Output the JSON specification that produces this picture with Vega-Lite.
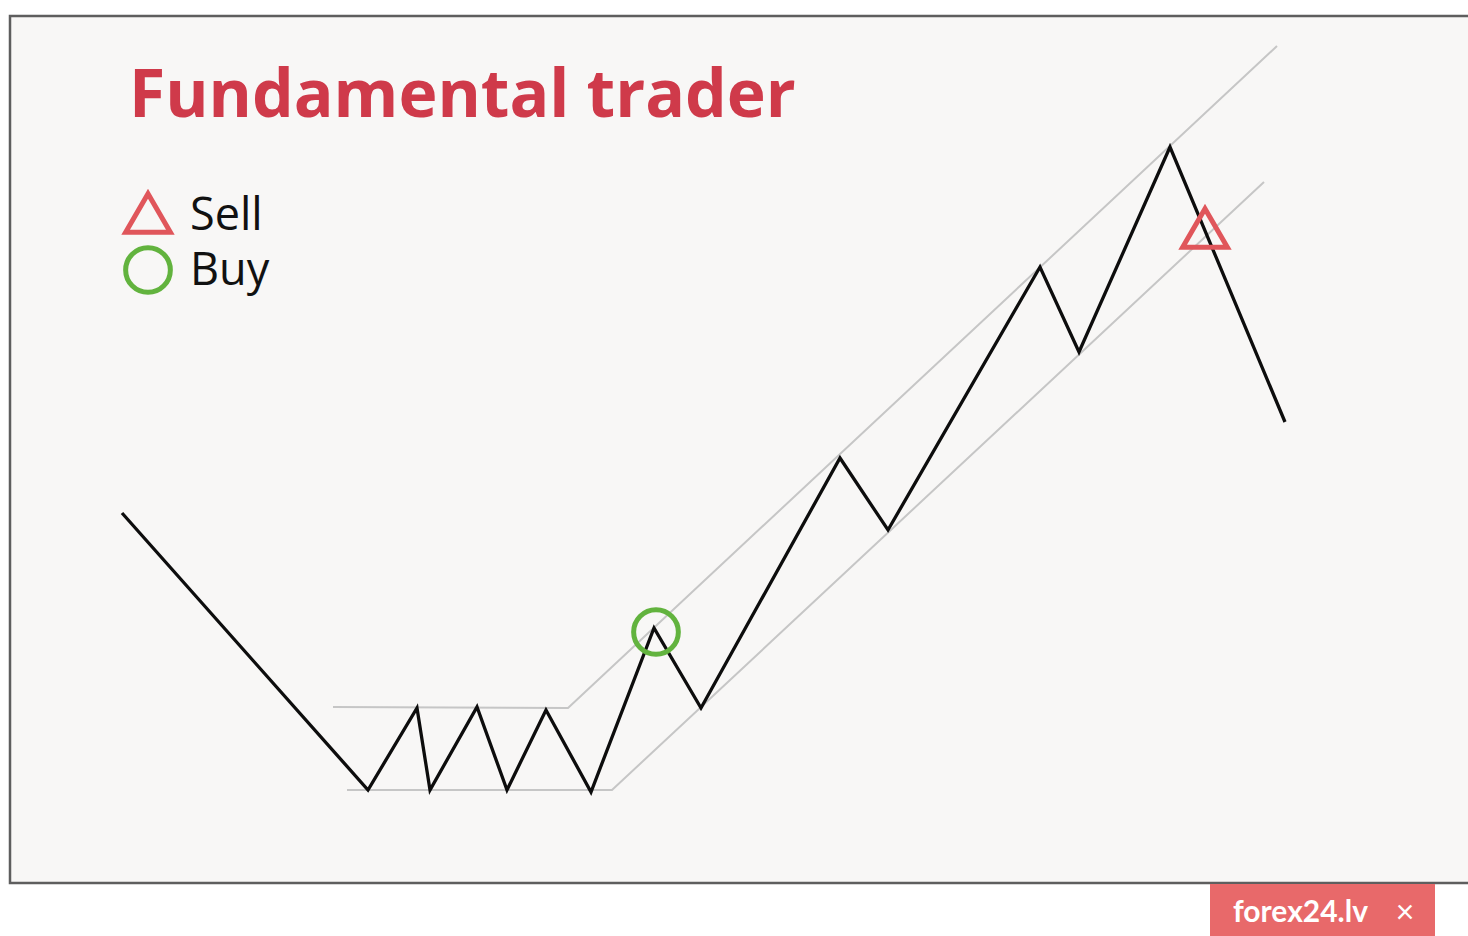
{
  "$schema": "https://vega.github.io/schema/vega-lite/v6.json",
  "width": 1468,
  "height": 936,
  "padding": 0,
  "autosize": {"type": "none"},
  "background": "#ffffff",
  "config": {"view": {"stroke": null}},
  "datasets": {
    "frame": [{"x": 10, "x2": 1478, "y": 16, "y2": 883}],
    "badge": [{"x": 1210, "x2": 1435, "y": 884, "y2": 940}],
    "channel": [
      {"line": "upper", "o": 1, "x": 333, "y": 707},
      {"line": "upper", "o": 2, "x": 568, "y": 708},
      {"line": "upper", "o": 3, "x": 1277, "y": 46},
      {"line": "lower", "o": 1, "x": 347, "y": 790},
      {"line": "lower", "o": 2, "x": 612, "y": 790},
      {"line": "lower", "o": 3, "x": 1264, "y": 182}
    ],
    "price": [
      {"o": 1, "x": 122, "y": 513},
      {"o": 2, "x": 368, "y": 790},
      {"o": 3, "x": 417, "y": 708},
      {"o": 4, "x": 430, "y": 790},
      {"o": 5, "x": 477, "y": 707},
      {"o": 6, "x": 507, "y": 790},
      {"o": 7, "x": 546, "y": 710},
      {"o": 8, "x": 591, "y": 792},
      {"o": 9, "x": 654, "y": 628},
      {"o": 10, "x": 701, "y": 708},
      {"o": 11, "x": 840, "y": 458},
      {"o": 12, "x": 888, "y": 530},
      {"o": 13, "x": 1040, "y": 267},
      {"o": 14, "x": 1079, "y": 352},
      {"o": 15, "x": 1170, "y": 147},
      {"o": 16, "x": 1285, "y": 422}
    ],
    "markers": [
      {"kind": "Buy", "x": 656, "y": 632},
      {"kind": "Sell", "x": 1205, "y": 228},
      {"kind": "Sell", "x": 148, "y": 213},
      {"kind": "Buy", "x": 148, "y": 270}
    ],
    "labels": [
      {"text": "Sell", "x": 190, "y": 230},
      {"text": "Buy", "x": 190, "y": 285}
    ],
    "title": [{"text": "Fundamental trader", "x": 129, "y": 117}],
    "badgeText": [{"text": "forex24.lv", "x": 1233, "y": 922}],
    "badgeClose": [{"text": "×", "x": 1405, "y": 923}]
  },
  "encoding": {
    "x": {"field": "x", "type": "quantitative", "scale": {"domain": [0, 1468], "nice": false, "zero": false}, "axis": null},
    "y": {"field": "y", "type": "quantitative", "scale": {"domain": [0, 936], "nice": false, "zero": false, "reverse": true}, "axis": null}
  },
  "layer": [
    {
      "data": {"name": "frame"},
      "mark": {"type": "rect", "fill": "#f8f7f6", "stroke": "#5e5e5e", "strokeWidth": 2.5},
      "encoding": {"x2": {"field": "x2"}, "y2": {"field": "y2"}}
    },
    {
      "data": {"name": "badge"},
      "mark": {"type": "rect", "fill": "#e8696a"},
      "encoding": {"x2": {"field": "x2"}, "y2": {"field": "y2"}}
    },
    {
      "data": {"name": "channel"},
      "mark": {"type": "line", "color": "#c6c6c6", "strokeWidth": 2},
      "encoding": {"detail": {"field": "line"}, "order": {"field": "o"}}
    },
    {
      "data": {"name": "price"},
      "mark": {"type": "line", "color": "#0d0d0d", "strokeWidth": 3.3, "strokeJoin": "miter"},
      "encoding": {"order": {"field": "o"}}
    },
    {
      "data": {"name": "markers"},
      "mark": {"type": "point", "filled": false, "strokeWidth": 5, "size": 2000, "opacity": 1},
      "encoding": {
        "shape": {"field": "kind", "type": "nominal", "scale": {"domain": ["Sell", "Buy"], "range": ["triangle-up", "circle"]}, "legend": null},
        "color": {"field": "kind", "type": "nominal", "scale": {"domain": ["Sell", "Buy"], "range": ["#e0565b", "#62b33e"]}, "legend": null}
      }
    },
    {
      "data": {"name": "labels"},
      "mark": {"type": "text", "align": "left", "baseline": "alphabetic", "font": "Open Sans", "fontSize": 45, "color": "#111111"},
      "encoding": {"text": {"field": "text"}}
    },
    {
      "data": {"name": "title"},
      "mark": {"type": "text", "align": "left", "baseline": "alphabetic", "font": "Open Sans", "fontWeight": "bold", "fontSize": 66, "color": "#cf3a4a"},
      "encoding": {"text": {"field": "text"}}
    },
    {
      "data": {"name": "badgeText"},
      "mark": {"type": "text", "align": "left", "baseline": "alphabetic", "font": "Lato", "fontWeight": "bold", "fontSize": 30, "color": "#ffffff"},
      "encoding": {"text": {"field": "text"}}
    },
    {
      "data": {"name": "badgeClose"},
      "mark": {"type": "text", "align": "center", "baseline": "alphabetic", "font": "Lato", "fontSize": 32, "color": "#ffffff"},
      "encoding": {"text": {"field": "text"}}
    }
  ]
}
